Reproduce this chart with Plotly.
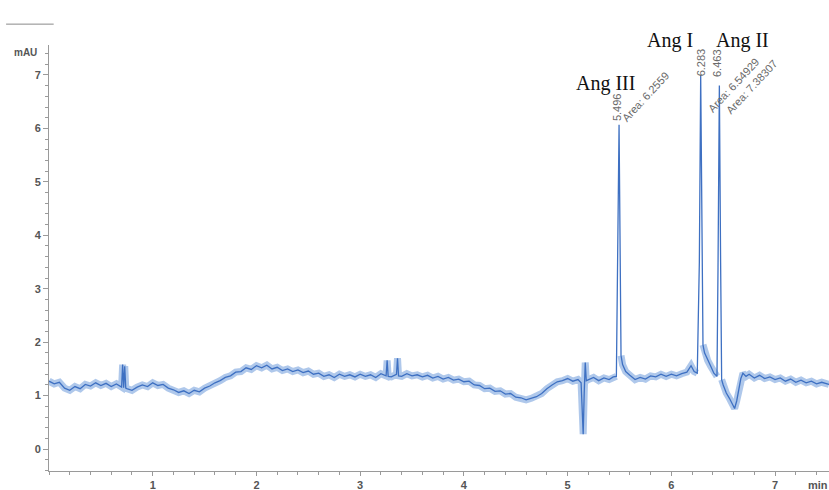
import plotly.graph_objects as go

# ---- data ----
time_min = [
    0.00, 0.05, 0.10, 0.15, 0.20, 0.25, 0.30, 0.35, 0.40, 0.45, 0.50, 0.55, 0.60, 0.65, 0.70,
    0.71, 0.72, 0.73, 0.74, 0.75, 0.80, 0.85, 0.90, 0.95, 1.00, 1.05, 1.10, 1.15, 1.20, 1.25,
    1.30, 1.35, 1.40, 1.45, 1.50, 1.55, 1.60, 1.65, 1.70, 1.75, 1.80, 1.85, 1.90, 1.95, 2.00,
    2.05, 2.10, 2.15, 2.20, 2.25, 2.30, 2.35, 2.40, 2.45, 2.50, 2.55, 2.60, 2.65, 2.70, 2.75,
    2.80, 2.85, 2.90, 2.95, 3.00, 3.05, 3.10, 3.15, 3.20, 3.25, 3.26, 3.27, 3.30, 3.35, 3.36,
    3.37, 3.40, 3.45, 3.50, 3.55, 3.60, 3.65, 3.70, 3.75, 3.80, 3.85, 3.90, 3.95, 4.00, 4.05,
    4.10, 4.15, 4.20, 4.25, 4.30, 4.35, 4.40, 4.45, 4.50, 4.55, 4.60, 4.65, 4.70, 4.75, 4.80,
    4.85, 4.90, 4.95, 5.00, 5.05, 5.10, 5.13, 5.15, 5.16, 5.17, 5.18, 5.20, 5.25, 5.30, 5.35,
    5.40, 5.44, 5.47, 5.485, 5.496, 5.505, 5.515, 5.53, 5.56, 5.60, 5.65, 5.70, 5.75, 5.80, 5.85,
    5.90, 5.95, 6.00, 6.05, 6.10, 6.15, 6.19, 6.22, 6.25, 6.27, 6.283, 6.295, 6.305, 6.32, 6.35,
    6.38, 6.41, 6.44, 6.45, 6.463, 6.475, 6.485, 6.50, 6.53, 6.56, 6.59, 6.61, 6.63, 6.65, 6.67,
    6.69, 6.72, 6.75, 6.80, 6.85, 6.90, 6.95, 7.00, 7.05, 7.10, 7.15, 7.20, 7.25, 7.30, 7.35,
    7.40, 7.45, 7.52,
]
absorbance_mAU = [
    1.27, 1.22, 1.25, 1.14, 1.10, 1.17, 1.13, 1.21, 1.18, 1.24, 1.19, 1.23, 1.17, 1.22, 1.16,
    1.58, 1.15, 1.55, 1.14, 1.13, 1.10, 1.16, 1.20, 1.17, 1.24, 1.19, 1.21, 1.14, 1.11, 1.06,
    1.09, 1.04, 1.10, 1.07, 1.14, 1.18, 1.24, 1.28, 1.34, 1.37, 1.44, 1.45, 1.52, 1.49, 1.56,
    1.52, 1.57, 1.50, 1.53, 1.47, 1.50, 1.45, 1.48, 1.43, 1.46, 1.40, 1.42, 1.36, 1.39, 1.34,
    1.40, 1.36, 1.39, 1.35, 1.40, 1.36, 1.39, 1.34, 1.41, 1.37, 1.66, 1.36, 1.35, 1.40, 1.70,
    1.37, 1.36, 1.41, 1.37, 1.39, 1.35, 1.38, 1.33, 1.36, 1.31, 1.34, 1.29, 1.31, 1.26, 1.27,
    1.20, 1.19, 1.13, 1.14, 1.08, 1.09, 1.03, 1.04, 0.97, 0.96, 0.92, 0.95, 0.98, 1.04, 1.13,
    1.20, 1.26, 1.28, 1.32, 1.27, 1.30, 1.24, 0.28, 1.05, 1.62, 1.28, 1.30, 1.34, 1.28, 1.33,
    1.30, 1.35, 1.36, 3.60, 6.07, 4.00, 1.75, 1.58, 1.45, 1.38, 1.30, 1.34, 1.31, 1.37, 1.35,
    1.40, 1.36, 1.40, 1.37, 1.41, 1.44, 1.56, 1.45, 1.42, 3.50, 7.00, 4.00, 1.95, 1.80, 1.66,
    1.55, 1.42, 1.36, 3.40, 6.80, 3.50, 1.30, 1.20, 1.05, 0.95, 0.84, 0.76, 0.90, 1.12, 1.32,
    1.42, 1.36, 1.40, 1.33, 1.38, 1.32, 1.35, 1.30, 1.33, 1.27, 1.31, 1.25, 1.29, 1.24, 1.27,
    1.22, 1.25, 1.21,
]

peak_names = ["Ang III", "Ang I", "Ang II"]
peak_rt = [5.496, 6.283, 6.463]
peak_area = ["6.2559", "6.54929", "7.38307"]

x_ticks = [1, 2, 3, 4, 5, 6, 7]
y_ticks = [0, 1, 2, 3, 4, 5, 6, 7]

# halo only along the baseline (not on the narrow peak apexes)
halo_y = [v if v < 2.0 else None for v in absorbance_mAU]

fig = go.Figure()
fig.add_trace(go.Scatter(x=time_min, y=halo_y, mode="lines", connectgaps=False,
                         line=dict(color="rgba(95,145,215,0.5)", width=7),
                         hoverinfo="skip", showlegend=False))
fig.add_trace(go.Scatter(x=time_min, y=absorbance_mAU, mode="lines",
                         line=dict(color="#3e70c2", width=1.3),
                         showlegend=False))

grey = "#9a9a9a"
lab_font = dict(family="Liberation Sans", size=11, color="#6a6a6a")

annotations = []
# peak names (serif, black) - offsets from retention time, paper y
name_dx = [-0.126, -0.298, 0.227]
name_y = [0.942, 1.042, 1.042]
for nm, rt, dx, ny in zip(peak_names, peak_rt, name_dx, name_y):
    annotations.append(dict(x=rt + dx, y=ny, xref="x", yref="paper", text=nm, showarrow=False,
                            font=dict(family="Liberation Serif", size=20, color="#111111")))
# retention times (vertical)
rt_y = [6.40, 7.23, 7.23]
rt_shift = [-2, 0, -3]
for rt, ry, sh in zip(peak_rt, rt_y, rt_shift):
    annotations.append(dict(x=rt, y=ry, xref="x", yref="y", text=f"{rt:.3f}", showarrow=False,
                            textangle=-90, xshift=sh, font=lab_font))
# areas (diagonal)
area_pos = [(5.496, 6.59, 26), (6.283, 6.81, 33), (6.463, 6.78, 32)]
for ar, (ax_, ay_, sh) in zip(peak_area, area_pos):
    annotations.append(dict(x=ax_, y=ay_, xref="x", yref="y", text=f"Area: {ar}", showarrow=False,
                            textangle=-47, xshift=sh, font=lab_font))
# axis unit labels
annotations.append(dict(x=-0.013, y=1.0, xref="paper", yref="paper", text="<b>mAU</b>",
                        showarrow=False, xanchor="right", yanchor="middle", yshift=-7,
                        font=dict(family="Liberation Sans", size=10, color="#555555")))
annotations.append(dict(x=0.971, y=0, xref="paper", yref="paper", text="<b>min</b>",
                        showarrow=False, xanchor="left", yanchor="top", yshift=-6,
                        font=dict(family="Liberation Sans", size=11, color="#555555")))

fig.update_layout(
    width=829, height=490,
    margin=dict(l=49, r=0, t=45, b=19, autoexpand=False),
    paper_bgcolor="white", plot_bgcolor="white",
    annotations=annotations,
    shapes=[dict(type="line", xref="paper", yref="paper", x0=-0.055, x1=0.006,
                 y0=1.049, y1=1.049, line=dict(color="#8a8a8a", width=1))],
    xaxis=dict(range=[0, 7.52], tickvals=x_ticks, ticktext=[f"<b>{v}</b>" for v in x_ticks],
               automargin=False,
               showgrid=False, zeroline=False, showline=True, linecolor=grey, linewidth=1,
               ticks="outside", ticklen=4, tickcolor=grey,
               minor=dict(dtick=0.2, ticks="outside", ticklen=3, tickcolor=grey),
               tickfont=dict(family="Liberation Sans", size=11, color="#555555")),
    yaxis=dict(range=[-0.41, 7.56], tickvals=y_ticks, ticktext=[f"<b>{v}</b>" for v in y_ticks],
               automargin=False,
               showgrid=False, zeroline=False, showline=True, linecolor=grey, linewidth=1,
               ticks="outside", ticklen=5, tickcolor=grey,
               minor=dict(dtick=0.2, ticks="outside", ticklen=3, tickcolor=grey),
               tickfont=dict(family="Liberation Sans", size=11, color="#555555")),
)

# remove the page's default body margin/scrollbars so the 829x490 figure fills the window
fig.write_html("out.html", config={"displayModeBar": False},
               post_script="document.body.style.margin='0';document.body.style.overflow='hidden';")
